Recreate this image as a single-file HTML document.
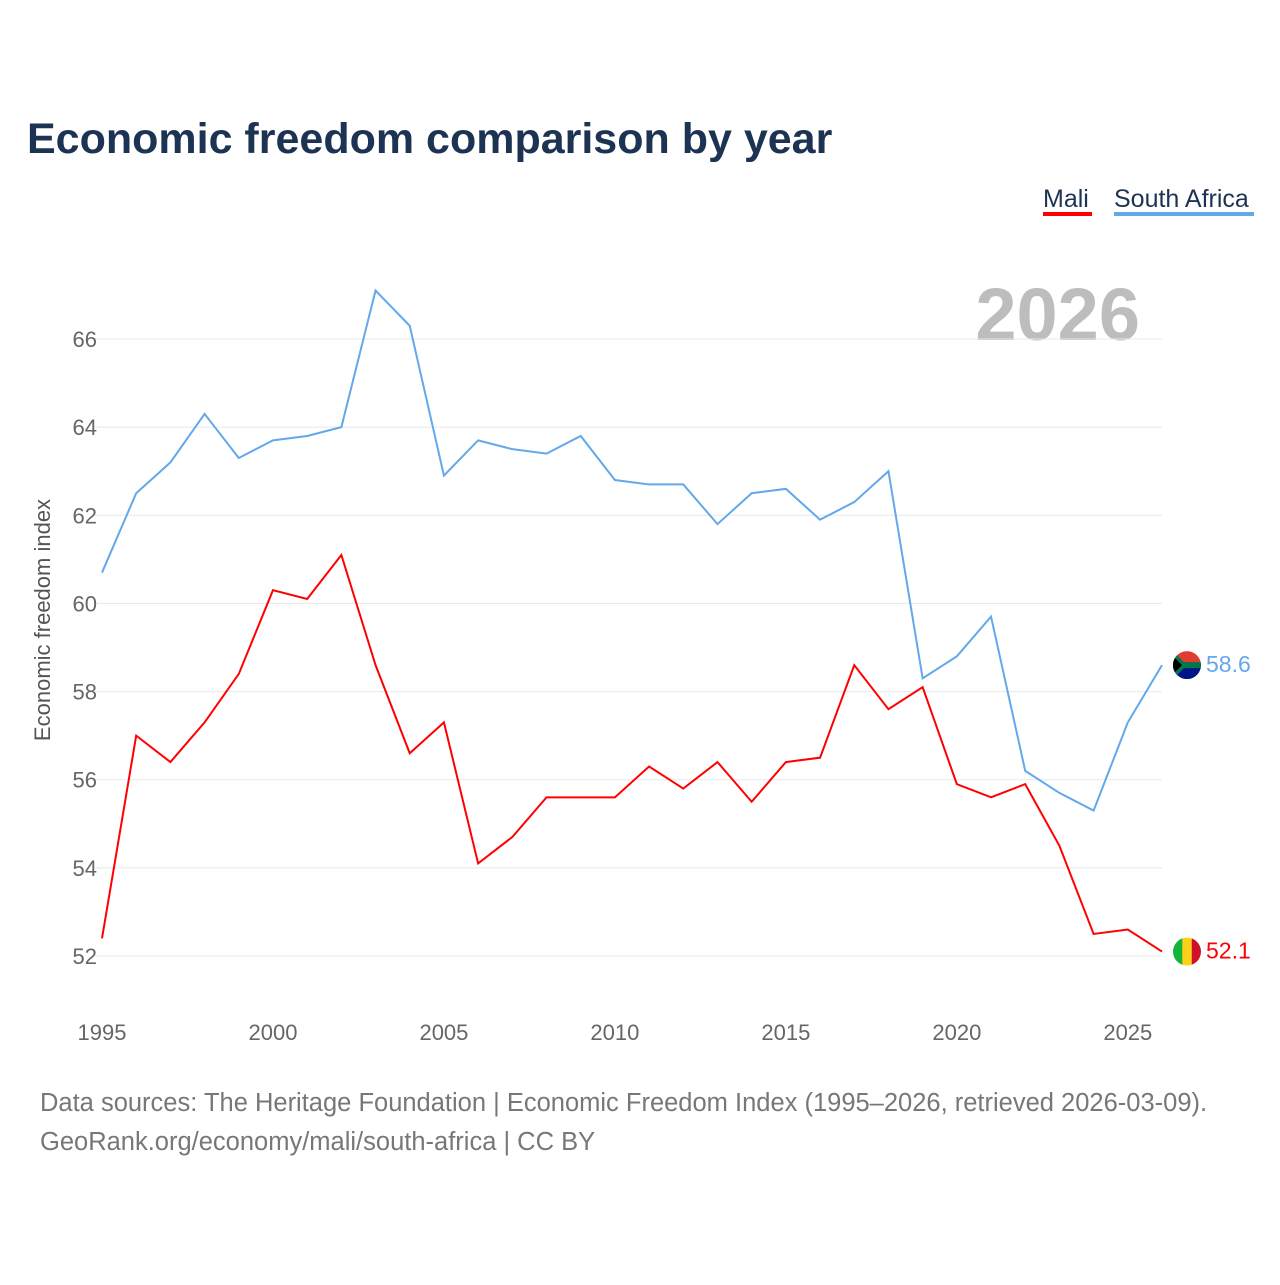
<!DOCTYPE html>
<html><head><meta charset="utf-8"><style>
body{margin:0;background:#fff;width:1280px;height:1280px;overflow:hidden;font-family:"Liberation Sans",sans-serif}
svg text{font-family:"Liberation Sans",sans-serif}
</style></head><body>
<svg width="1280" height="1280">
<text x="27" y="153" font-size="43" font-weight="bold" fill="#1d3353">Economic freedom comparison by year</text>
<g>
<g><text x="1043" y="207" font-size="25" fill="#1d3353">Mali</text><rect x="1043" y="212" width="49" height="4" fill="#f00"/></g>
<g><text x="1114" y="207" font-size="25" fill="#1d3353">South Africa</text><rect x="1114" y="212" width="140" height="4" fill="#63a8ea"/></g>
</g>
<text x="1140" y="340" font-size="74" font-weight="bold" fill="#bdbdbd" text-anchor="end">2026</text>
<text transform="translate(50,620) rotate(-90)" font-size="22" fill="#555" text-anchor="middle">Economic freedom index</text>
<g id="grid"></g><g id="lines"></g><g id="ends"></g>
<text x="40" y="1111" font-size="25.5" fill="#777">Data sources: The Heritage Foundation | Economic Freedom Index (1995–2026, retrieved 2026-03-09).</text>
<text x="40" y="1150" font-size="25.5" fill="#777">GeoRank.org/economy/mali/south-africa | CC BY</text>
</svg>
<script>
const years=[1995,1996,1997,1998,1999,2000,2001,2002,2003,2004,2005,2006,2007,2008,2009,2010,2011,2012,2013,2014,2015,2016,2017,2018,2019,2020,2021,2022,2023,2024,2025,2026];
const mali=[52.4,57.0,56.4,57.3,58.4,60.3,60.1,61.1,58.6,56.6,57.3,54.1,54.7,55.6,55.6,55.6,56.3,55.8,56.4,55.5,56.4,56.5,58.6,57.6,58.1,55.9,55.6,55.9,54.5,52.5,52.6,52.1];
const southAfrica=[60.7,62.5,63.2,64.3,63.3,63.7,63.8,64.0,67.1,66.3,62.9,63.7,63.5,63.4,63.8,62.8,62.7,62.7,61.8,62.5,62.6,61.9,62.3,63.0,58.3,58.8,59.7,56.2,55.7,55.3,57.3,58.6];
const yTicks=[52,54,56,58,60,62,64,66];
const xTicks=[1995,2000,2005,2010,2015,2020,2025];
const NS="http://www.w3.org/2000/svg";
const x=v=>102+(v-1995)*(1162-102)/31;
const y=v=>956-(v-52)*(956-339)/14;
function mk(t,a,p){const e=document.createElementNS(NS,t);for(const k in a)e.setAttribute(k,a[k]);p.appendChild(e);return e;}
const grid=document.getElementById('grid');
yTicks.forEach(t=>{
 const l=mk('line',{x1:95,x2:1162,y1:y(t),y2:y(t),stroke:'#e8e8e8','stroke-width':1},grid);
 
 
 const tx=mk('text',{x:97,y:y(t)+8,'font-size':22,fill:'#666','text-anchor':'end'},grid);
 tx.textContent=t;
 
 
});
xTicks.forEach(t=>{
 const tx=mk('text',{x:x(t),y:1040,'font-size':22,fill:'#666','text-anchor':'middle'},grid);
 tx.textContent=t;
 
 
});
const lines=document.getElementById('lines');
function series(d,c,name){
 const p=mk('polyline',{points:d.map((v,i)=>x(years[i])+','+y(v)).join(' '),fill:'none',stroke:c,'stroke-width':2},lines);
 
 
}
series(southAfrica,'#63a8ea','line-south-africa');
series(mali,'#f00','line-mali');
const ends=document.getElementById('ends');
function end(d,c,name,flag){
 const v=d[d.length-1],cx=x(years[years.length-1])+25,cy=y(v);
 const g=mk('g',{},ends);
 
 
 const id='c'+name;
 const cp=mk('clipPath',{id:id},g);mk('circle',{cx:cx,cy:cy,r:14},cp);
 const fg=mk('g',{'clip-path':'url(#'+id+')'},g);
 if(flag==='mali'){
  mk('rect',{x:cx-14,y:cy-14,width:10,height:28,fill:'#14b53a'},fg);
  mk('rect',{x:cx-4.7,y:cy-14,width:9.4,height:28,fill:'#fcd116'},fg);
  mk('rect',{x:cx+4.7,y:cy-14,width:10,height:28,fill:'#ce1126'},fg);
 }else{
  mk('rect',{x:cx-14,y:cy-14,width:28,height:14,fill:'#e03c31'},fg);
  mk('rect',{x:cx-14,y:cy,width:28,height:14,fill:'#001489'},fg);
  mk('polygon',{points:`${cx-14},${cy-14} ${cx},${cy} ${cx-14},${cy+14}`,fill:'#007749'},fg);
  mk('rect',{x:cx-6,y:cy-3,width:20,height:6,fill:'#007749'},fg);
  mk('polygon',{points:`${cx-14},${cy-9} ${cx-5},${cy} ${cx-14},${cy+9}`,fill:'#000'},fg);
 }
 const t=mk('text',{x:cx+19,y:cy+7,'font-size':23,fill:c},g);
 t.textContent=v.toFixed(1);
}
end(southAfrica,'#63a8ea','end-label-south-africa','za');
end(mali,'#f00','end-label-mali','mali');
</script>
</body></html>
